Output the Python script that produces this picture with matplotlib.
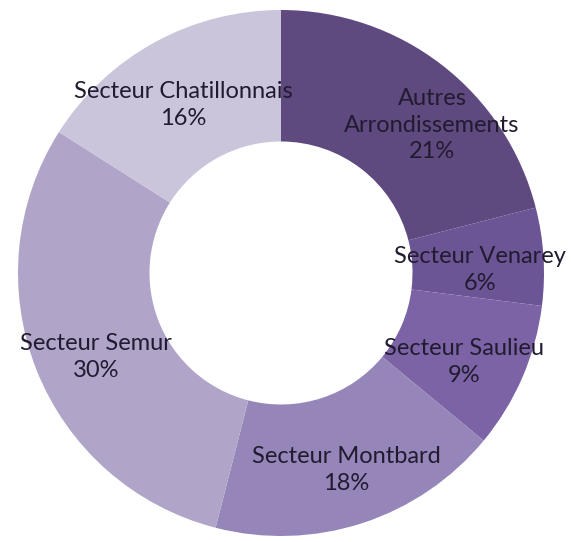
import matplotlib
matplotlib.use("Agg")
import matplotlib.pyplot as plt

# Répartition par secteur
secteurs = ["Autres\nArrondissements", "Secteur Venarey", "Secteur Saulieu",
            "Secteur Montbard", "Secteur Semur", "Secteur Chatillonnais"]
parts = [21, 6, 9, 18, 30, 16]
couleurs = ["#5f4a80", "#6b5595", "#7b63a5", "#9585b8", "#b0a5c9", "#cbc5dc"]

# label anchor points in pixel space (x, y from top)
label_pos = [(432, 125), (480, 270), (464, 362), (346, 470), (96, 357), (183, 105)]

W, H = 571, 542
fig = plt.figure(figsize=(W / 100, H / 100), dpi=100)
ax = fig.add_axes([0, 0, 1, 1])

cx, cy, R = 281, H - 273, 263
ax.pie(parts, colors=couleurs, startangle=90, counterclock=False,
       center=(cx, cy), radius=R,
       wedgeprops=dict(width=R * 0.5, edgecolor="none", antialiased=True))

for nom, val, (x, y) in zip(secteurs, parts, label_pos):
    ax.text(x, H - y, f"{nom}\n{val}%", ha="center", va="center",
            fontsize=17, family=["Lato", "DejaVu Sans"], color="#211b30",
            linespacing=1.32)

ax.set_xlim(0, W)
ax.set_ylim(0, H)
ax.set_aspect("auto")
ax.axis("off")
fig.savefig("out.png", dpi=100, facecolor="white")
